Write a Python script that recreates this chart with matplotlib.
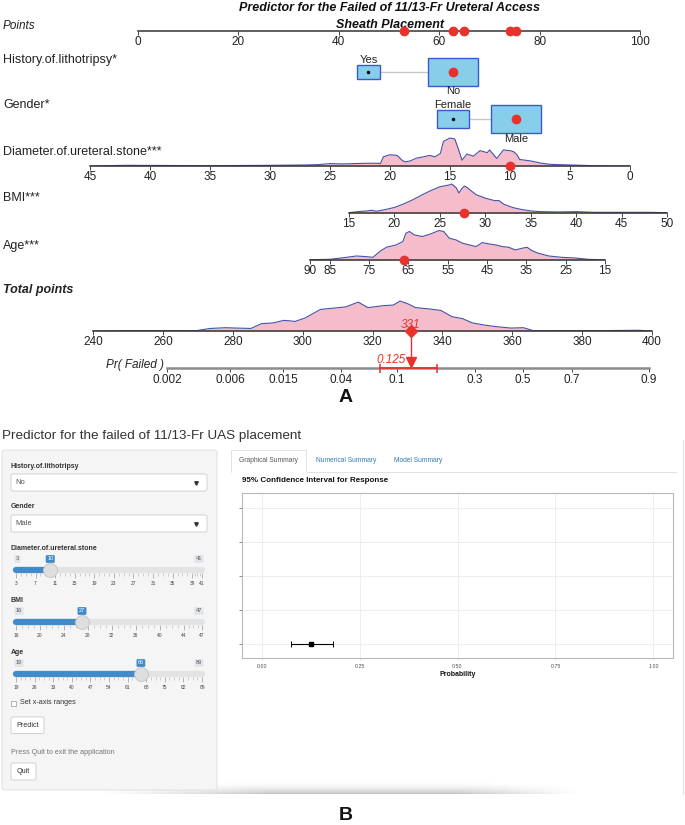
import numpy as np
import matplotlib
matplotlib.use('Agg')
import matplotlib.pyplot as plt
from matplotlib import font_manager
from matplotlib.patches import Rectangle, FancyBboxPatch

W, H = 685, 825

# ---------------- panel A : nomogram ----------------
points_ticks = [0, 20, 40, 60, 80, 100]

hist_levels = ['Yes', 'No']
hist_points = [45.9, 62.7]
hist_prop = [0.18, 0.82]
gender_levels = ['Female', 'Male']
gender_points = [62.7, 75.3]
gender_prop = [0.29, 0.71]

diam_ticks = [45, 40, 35, 30, 25, 20, 15, 10, 5, 0]
diam_mm = [45, 42, 35, 30, 27, 26, 25, 24, 23, 22, 21, 20.8, 20.55, 20, 19.4, 19, 18.75, 18.3,
           17.8, 17.2, 16.7, 16.25, 15.8, 15.55, 15, 14.6, 14.3, 14.0, 13.6, 13.05, 12.5, 11.9,
           11.7, 11.1, 10.55, 10, 9.7, 9.4, 9.2, 8.3, 7.5, 6.7, 6, 5, 4, 3, 2, 0]
diam_dens = [0, 2, 1, 2, 3, 4, 7, 6, 7, 8, 8, 7, 27, 33, 31, 17, 12, 15, 23, 27, 31, 27, 37, 72,
             82, 79, 50, 17, 35, 29, 45, 39, 47, 22, 47, 45, 42, 32, 19, 15, 9, 5, 4, 3, 2, 1, 0.5, 0]

bmi_ticks = [15, 20, 25, 30, 35, 40, 45, 50]
bmi_val = [15, 16, 17, 17.5, 18, 19, 20, 21, 22, 23, 24, 25, 26, 26.3, 26.8, 27.1, 27.4, 27.7,
           28, 28.5, 29, 30, 31, 31.5, 32, 33, 34, 35, 36, 38, 40, 42, 45, 48, 50]
bmi_dens = [1, 4, 6, 8, 5, 10, 16, 26, 38, 52, 65, 76, 81, 84, 73, 58, 70, 78, 74, 63, 53, 43,
            36, 36, 26, 16, 10, 6, 4, 3, 4, 2, 2, 2, 1]

age_ticks = [90, 85, 75, 65, 55, 45, 35, 25, 15]
age_val = [90, 85, 80.7, 78.2, 75.7, 74, 72.3, 70.6, 68.1, 66.4, 65.6, 64.7, 63.5, 61.4, 59.3,
           57.2, 56, 54.6, 52.9, 51.2, 49.5, 47.8, 46.2, 44.5, 42.8, 41.1, 39.5, 37.8, 36.1,
           34.8, 33.6, 31.9, 29.3, 26, 22.6, 20.9, 19.2, 16.7, 15]
age_dens = [1, 2, 8, 12, 10, 8, 25, 38, 45, 55, 80, 85, 75, 70, 78, 88, 85, 65, 60, 50, 45, 40,
            52, 48, 45, 40, 38, 30, 35, 38, 28, 20, 12, 8, 6, 4, 2, 1, 0]

total_ticks = [240, 260, 280, 300, 320, 340, 360, 380, 400]
total_val = [240, 250, 260, 269.6, 273.6, 278, 281, 285.2, 288.2, 291.5, 294.6, 296.2, 297.8,
             300.8, 305.1, 308.3, 312.4, 315.9, 318.7, 322.9, 326, 327.9, 330.2, 332.3, 336.5,
             339.6, 342.8, 345.7, 348.6, 352.2, 355.4, 359.6, 363.2, 366, 375.3, 385.7, 396.2, 400]
total_dens = [0, 1, 1, 1, 7, 9, 8, 7, 20, 22, 29, 28, 26, 36, 59, 62, 66, 79, 64, 69, 71, 82, 74,
              64, 60, 56, 39, 34, 22, 16, 12, 8, 9, 1, 1, 1, 2, 0]

pr_ticks = [0.002, 0.006, 0.015, 0.04, 0.1, 0.3, 0.5, 0.7, 0.9]
pr_labels = ['0.002', '0.006', '0.015', '0.04', '0.1', '0.3', '0.5', '0.7', '0.9']
lp_slope = 0.061      # log-odds per total point
lp_mid = 363.1        # total points where Pr = 0.5

obs_hist = 'No'
obs_gender = 'Male'
obs_diam = 10
obs_bmi = 27.7
obs_age = 66
total_score = 331
pred_prob = 0.125
ci_low, ci_high = 0.076, 0.183

# ---------------- panel B : shiny app ----------------
slider_names = ['Diameter.of.ureteral.stone', 'BMI', 'Age']
slider_min = [3, 16, 19]
slider_max = [41, 47, 89]
slider_val = [10, 27, 66]
slider_ticks = [[3, 7, 11, 15, 19, 23, 27, 31, 35, 39, 41],
                [16, 20, 24, 28, 32, 36, 40, 44, 47],
                [19, 26, 33, 40, 47, 54, 61, 68, 75, 82, 89]]
ci_x_ticks = [0, 0.25, 0.5, 0.75, 1.0]
ci_x_labels = ['0.00', '0.25', '0.50', '0.75', '1.00']

# ---------------- style ----------------
names = {f.name for f in font_manager.fontManager.ttflist}
NARROW = 'Liberation Sans Narrow' if 'Liberation Sans Narrow' in names else 'Liberation Sans'
plt.rcParams['font.family'] = ['Liberation Sans', 'DejaVu Sans']

RED = '#E8322B'
PINK = '#F5BCCB'
DBLUE = '#4453A8'
BOXF = '#87CEEB'
BOXE = '#3A5BC7'
TXT = '#222222'

fig = plt.figure(figsize=(W / 100, H / 100), dpi=100)
bg = fig.add_axes([0, 0, 1, 1])
bg.set_xlim(0, W)
bg.set_ylim(H, 0)
bg.axis('off')


def px_axes(x0, y0, x1, y1):
    ax = fig.add_axes([x0 / W, 1 - y1 / H, (x1 - x0) / W, (y1 - y0) / H])
    ax.patch.set_visible(False)
    return ax


def scale_row(ax, lo, hi, ticks, labels=None, color='#333333', lw=1.1):
    ax.set_xlim(lo, hi)
    for s in ['top', 'right', 'left']:
        ax.spines[s].set_visible(False)
    ax.spines['bottom'].set_color(color)
    ax.spines['bottom'].set_linewidth(lw)
    ax.set_yticks([])
    ax.set_xticks(ticks)
    ax.set_xticklabels(labels if labels else [str(t) for t in ticks],
                       fontfamily=NARROW, fontsize=8.5, color=TXT)
    ax.tick_params(axis='x', length=3, width=0.7, pad=0.5, color='#444444')


def density_row(x0, x1, y_axis, lo, hi, ticks, xs, ds, peak_px):
    ax = px_axes(x0, y_axis - 36, x1, y_axis)
    scale_row(ax, lo, hi, ticks)
    ax.set_ylim(0, max(ds) * 36 / peak_px)
    ax.fill_between(xs, ds, color=PINK, lw=0, zorder=1)
    ax.plot(xs, ds, color=DBLUE, lw=0.8, zorder=2)
    return ax


# title
bg.text(390, 8, 'Predictor for the Failed of 11/13-Fr Ureteral Access', ha='center', va='center',
        fontsize=9, fontweight='bold', fontstyle='italic', color='#111111')
bg.text(390, 25, 'Sheath Placement', ha='center', va='center',
        fontsize=9, fontweight='bold', fontstyle='italic', color='#111111')

# row labels
bg.text(3, 26, 'Points', fontsize=8.5, fontstyle='italic', va='center', color=TXT)
bg.text(3, 60, 'History.of.lithotripsy*', fontsize=9, va='center', color=TXT)
bg.text(3, 105, 'Gender*', fontsize=9, va='center', color=TXT)
bg.text(3, 152, 'Diameter.of.ureteral.stone***', fontsize=9, va='center', color=TXT)
bg.text(3, 198, 'BMI***', fontsize=9, va='center', color=TXT)
bg.text(3, 246, 'Age***', fontsize=9, va='center', color=TXT)
bg.text(3, 290, 'Total points', fontsize=9, fontweight='bold', fontstyle='italic', va='center',
        color=TXT)

# points scale
ax_pts = px_axes(138, 20, 640, 31)
scale_row(ax_pts, 0, 100, points_ticks)
ax_pts.set_ylim(0, 1)

# continuous scales
ax_d = density_row(90, 630, 166, 45, 0, diam_ticks, diam_mm, diam_dens, 28)
ax_b = density_row(349, 667, 213, 15, 50, bmi_ticks, bmi_val, bmi_dens, 29)
ax_a = density_row(310, 605, 260, 90, 15, age_ticks, age_val, age_dens, 29.5)
ax_t = density_row(93, 652, 331, 240, 400, total_ticks, total_val, total_dens, 30)

for ax, v in [(ax_d, obs_diam), (ax_b, obs_bmi), (ax_a, obs_age)]:
    ax.plot(v, 0, 'o', color=RED, ms=6, clip_on=False, zorder=5)


def to_points(ax_row, v):
    xd = ax_row.transData.transform((v, 0))[0]
    return ax_pts.transData.inverted().transform((xd, 0))[0]


# categorical rows (boxes sized by category share)
def cat_row(y0, y1, yc, levels, pts, prop, obs):
    ax = px_axes(138, y0, 640, y1)
    ax.set_xlim(0, 100)
    ax.set_ylim(y1, y0)
    ax.axis('off')
    ppx = 100 / (640 - 138)
    ax.plot(pts, [yc, yc], color='#c8c8c8', lw=1, zorder=1)
    for i, (lev, p, f) in enumerate(zip(levels, pts, prop)):
        s = np.sqrt(f / max(prop))
        w, h = 50 * s * ppx, 28 * s
        ax.add_patch(Rectangle((p - w / 2, yc - h / 2), w, h, fc=BOXF, ec=BOXE, lw=1, zorder=2))
        if lev == obs:
            ax.plot(p, yc, 'o', color=RED, ms=6, zorder=4)
        else:
            ax.plot(p, yc, 'o', color='black', ms=1.5, zorder=4)
        ly = yc - h / 2 - 5 if i == 0 else yc + h / 2 + 5.5
        ax.text(p, ly, lev, ha='center', va='center', fontsize=8, color=TXT, zorder=5)
    return ax


cat_row(52, 98, 72, hist_levels, hist_points, hist_prop, obs_hist)
cat_row(99, 145, 119, gender_levels, gender_points, gender_prop, obs_gender)

# red dots on points scale
obs_pts = [hist_points[hist_levels.index(obs_hist)],
           gender_points[gender_levels.index(obs_gender)],
           to_points(ax_d, obs_diam), to_points(ax_b, obs_bmi), to_points(ax_a, obs_age)]
ax_pts.plot(obs_pts, [0] * len(obs_pts), 'o', color=RED, ms=6, clip_on=False, zorder=5)

# probability scale
def total_for(p):
    return lp_mid + np.log(p / (1 - p)) / lp_slope


ax_pr = px_axes(93, 331, 652, 368)
scale_row(ax_pr, 240, 400, [total_for(p) for p in pr_ticks], pr_labels, color='#8c8c8c', lw=1.8)
ax_pr.spines['bottom'].set_bounds(total_for(pr_ticks[0]), total_for(pr_ticks[-1]))
ax_pr.set_ylim(368, 331)
ax_pr.tick_params(axis='x', pad=1)
ax_pr.text(total_for(pr_ticks[0]) - 1, 365, 'Pr( Failed )', ha='right', va='center',
           fontsize=8.5, fontstyle='italic', color=TXT)

ax_t.plot(total_score, 0, 'D', color=RED, ms=6, clip_on=False, zorder=6)
ax_pr.text(total_score, 325, str(total_score), ha='center', va='center', fontsize=8.5,
           fontstyle='italic', color=RED)
ax_pr.plot([total_score, total_score], [331, 360], color=RED, lw=1, clip_on=False)
ax_pr.plot(total_score, 362, 'v', color=RED, ms=7, clip_on=False)
ax_pr.text(total_score - 1.5, 360, str(pred_prob), ha='right', va='center', fontsize=8.5,
           fontstyle='italic', color=RED)
ax_pr.plot([total_for(ci_low), total_for(ci_high)], [368, 368], color=RED, lw=1.3,
           clip_on=False, zorder=6)
ax_pr.vlines([total_for(ci_low), total_for(ci_high)], 363.5, 372.5, color=RED, lw=1.1,
             clip_on=False, zorder=6)

bg.text(346, 398, 'A', ha='center', va='center', fontsize=14, fontweight='bold', color='#111111')

# ---------------- panel B ----------------
bg.text(2, 436, 'Predictor for the failed of 11/13-Fr UAS placement', ha='left', va='center',
        fontsize=9.7, color='#333333')

bg.add_patch(FancyBboxPatch((2, 450), 215, 340, boxstyle='round,pad=0,rounding_size=3',
                            fc='#f5f5f5', ec='#e3e3e3', lw=0.8))

SB = dict(fontsize=5, fontweight='bold', color='#333333', va='center')
bg.text(11, 466, 'History.of.lithotripsy', **SB)
bg.text(11, 507, 'Gender', **SB)
for y, txt in [(474, 'No'), (515, 'Male')]:
    bg.add_patch(FancyBboxPatch((11, y), 196, 17, boxstyle='round,pad=0,rounding_size=2',
                                fc='white', ec='#cccccc', lw=0.6))
    bg.text(15, y + 8.5, txt, fontsize=5.5, color='#555555', va='center')
    bg.plot(196, y + 8.5, marker='v', ms=2.5, color='#333333')

slider_rows = [(548, 570), (600, 622), (652, 674)]
for (yl, yt), name, lo, hi, val, ticks in zip(slider_rows, slider_names, slider_min,
                                              slider_max, slider_val, slider_ticks):
    bg.text(11, yl, name, **SB)
    ax = px_axes(16, yt - 14, 202, yt + 3)
    ax.set_xlim(lo, hi)
    ax.set_ylim(yt + 3, yt - 14)
    for s in ['top', 'right', 'left', 'bottom']:
        ax.spines[s].set_visible(False)
    ax.set_yticks([])
    ax.set_xticks(ticks)
    ax.set_xticklabels([str(t) for t in ticks], fontsize=3.5, color='#444444')
    minors = []
    for a, b in zip(ticks[:-1], ticks[1:]):
        minors += [a + (b - a) * k / 4 for k in (1, 2, 3)]
    ax.set_xticks(minors, minor=True)
    ax.tick_params(axis='x', which='major', length=3.5, width=0.5, color='#999999', pad=2)
    ax.tick_params(axis='x', which='minor', length=2, width=0.4, color='#aaaaaa')
    ax.plot([lo, hi], [yt, yt], color='#e3e3e3', lw=4.5, solid_capstyle='round', clip_on=False)
    ax.plot([lo, val], [yt, yt], color='#428bca', lw=4.5, solid_capstyle='round', clip_on=False)
    ax.plot(val, yt, 'o', ms=10, mfc='#dedede', mec='#c4c4c4', mew=0.6, clip_on=False, zorder=5)
    ax.text(val, yt - 11, str(val), ha='center', va='center', fontsize=4, color='white',
            bbox=dict(boxstyle='round,pad=0.25,rounding_size=0.2', fc='#428bca', ec='none'),
            zorder=6)
    ax.text(lo, yt - 11, str(lo), ha='left', va='center', fontsize=4, color='#555555',
            bbox=dict(boxstyle='round,pad=0.25,rounding_size=0.2', fc='#e1e4e9', ec='none'))
    ax.text(hi, yt - 11, str(hi), ha='right', va='center', fontsize=4, color='#555555',
            bbox=dict(boxstyle='round,pad=0.25,rounding_size=0.2', fc='#e1e4e9', ec='none'))

bg.add_patch(Rectangle((11, 700.5), 5, 5, fc='white', ec='#999999', lw=0.5))
bg.text(20, 703, 'Set x-axis ranges', fontsize=5.2, color='#333333', va='center')
for (x, y, w, h, t) in [(11, 717, 33, 16.5, 'Predict'), (11, 763, 25, 17, 'Quit')]:
    bg.add_patch(FancyBboxPatch((x, y), w, h, boxstyle='round,pad=0,rounding_size=2',
                                fc='white', ec='#cccccc', lw=0.6))
    bg.text(x + w / 2, y + h / 2, t, ha='center', va='center', fontsize=5.2, color='#333333')
bg.text(11, 752, 'Press Quit to exit the application', fontsize=5.2, color='#777777', va='center')

# tabs
bg.add_patch(Rectangle((231.5, 450), 75, 21.5, fc='white', ec='#dddddd', lw=0.6))
bg.plot([306.5, 676], [471.5, 471.5], color='#dddddd', lw=0.6)
bg.plot([232, 306], [471.5, 471.5], color='white', lw=1)
bg.text(269, 461, 'Graphical Summary', ha='center', va='center', fontsize=4.8, color='#555555')
bg.text(346, 461, 'Numerical Summary', ha='center', va='center', fontsize=4.8, color='#337ab7')
bg.text(418, 461, 'Model Summary', ha='center', va='center', fontsize=4.8, color='#337ab7')
bg.text(242, 480, '95% Confidence Interval for Response', ha='left', va='center',
        fontsize=5.8, fontweight='bold', color='#111111')

axc = px_axes(242, 493, 673, 658)
axc.patch.set_visible(True)
axc.set_facecolor('white')
axc.errorbar([pred_prob], [1], xerr=[[pred_prob - ci_low], [ci_high - pred_prob]], fmt='s',
             color='black', ms=3.2, capsize=2.4, lw=0.8, capthick=0.7)
axc.set_xlim(-0.05, 1.05)
axc.set_ylim(0.59, 5.44)
axc.set_xticks(ci_x_ticks)
axc.set_xticklabels(ci_x_labels, fontsize=3.8, color='#4d4d4d')
axc.set_yticks([1, 2, 3, 4, 5])
axc.set_yticklabels([])
axc.grid(True, color='#ebebeb', lw=0.6)
axc.set_axisbelow(True)
for s in axc.spines.values():
    s.set_color('#b8b8b8')
    s.set_linewidth(0.8)
axc.tick_params(axis='x', length=1.5, width=0.4, color='#cccccc', pad=3)
axc.tick_params(axis='y', length=2.5, width=0.5, color='#555555')
axc.set_xlabel('Probability', fontsize=5, fontweight='bold', labelpad=1.5, color='#111111')

bg.plot([683.5, 683.5], [440, 794], color='#e2e2e2', lw=0.8)

# soft shadow under the app screenshot
yy = np.linspace(0, 1, 14)[:, None]
xx = np.linspace(0, 1, 200)[None, :]
alpha = (yy ** 2) * np.clip(np.minimum(xx / 0.35, (1 - xx) / 0.25), 0, 1) * 0.22
shade = np.zeros((14, 200, 4))
shade[..., 3] = alpha
bg.imshow(shade, extent=(100, 580, 794, 780), origin='upper', aspect='auto', zorder=0)
bg.set_xlim(0, W)
bg.set_ylim(H, 0)

bg.text(346, 816, 'B', ha='center', va='center', fontsize=14, fontweight='bold',
        color='#111111')

fig.savefig('out.png', dpi=100)
